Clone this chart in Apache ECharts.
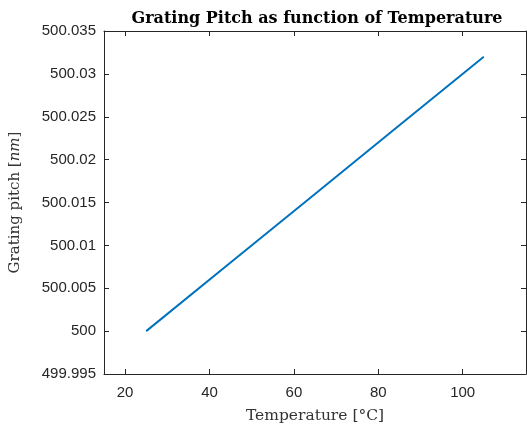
<!DOCTYPE html>
<html><head><meta charset="utf-8">
<script src="https://cdn.jsdelivr.net/npm/echarts@6/dist/echarts.min.js"></script>
<style>html,body{margin:0;padding:0;background:#fff}#c{width:527px;height:429px}</style>
</head><body><div id="c"></div>
<script>
const temperatures = [25, 45, 65, 85, 105];
const pitch = [500.000, 500.008, 500.016, 500.024, 500.032];
const xTicks = [20, 40, 60, 80, 100];
const yTicks = [499.995, 500, 500.005, 500.01, 500.015, 500.02, 500.025, 500.03, 500.035];
const xRange = [15, 115];
const yRange = [499.995, 500.035];

const axisColor = '#262626';
const chart = echarts.init(document.getElementById('c'), null, {renderer: 'canvas'});
const fmtY = v => String(parseFloat(Number(v).toFixed(3)));
const baseX = {
  type: 'value', min: xRange[0], max: xRange[1],
  axisLine: {show: true, onZero: false, lineStyle: {color: axisColor, width: 1}},
  axisTick: {show: true, inside: true, length: 5, customValues: xTicks, lineStyle: {color: axisColor}},
  splitLine: {show: false}
};
const baseY = {
  type: 'value', min: yRange[0], max: yRange[1],
  axisLine: {show: true, onZero: false, lineStyle: {color: axisColor, width: 1}},
  axisTick: {show: true, inside: true, length: 5, customValues: yTicks, lineStyle: {color: axisColor}},
  splitLine: {show: false}
};
chart.setOption({
  animation: false,
  title: {
    text: 'Grating Pitch as function of Temperature',
    left: 312, top: 6, textAlign: 'center',
    textStyle: {fontFamily: 'DejaVu Serif', fontWeight: 'bold', fontSize: 16, color: '#000'}
  },
  grid: {left: 99, right: 1, top: 31, bottom: 50},
  xAxis: [
    Object.assign({}, baseX, {
      position: 'bottom',
      axisLabel: {show: true, customValues: xTicks, fontFamily: 'Liberation Sans', fontSize: 15, color: axisColor, margin: 11},
      name: 'Temperature [°C]', nameLocation: 'middle', nameGap: 34,
      nameTextStyle: {fontFamily: 'DejaVu Serif', fontSize: 15.5, color: '#333'}
    }),
    Object.assign({}, baseX, {position: 'top', axisLabel: {show: false}})
  ],
  yAxis: [
    Object.assign({}, baseY, {
      position: 'left',
      axisLabel: {show: true, customValues: yTicks, formatter: fmtY, fontFamily: 'Liberation Sans', fontSize: 15, color: axisColor, margin: 8},
      name: '{a|Grating pitch [}{i|nm}{a|]}', nameLocation: 'middle', nameGap: 81,
      nameTextStyle: {
        rich: {
          a: {fontFamily: 'DejaVu Serif', fontSize: 15, color: '#333'},
          i: {fontFamily: 'DejaVu Serif', fontStyle: 'italic', fontSize: 15, color: '#333'}
        }
      }
    }),
    Object.assign({}, baseY, {position: 'right', axisLabel: {show: false}})
  ],
  series: [{
    type: 'line', xAxisIndex: 0, yAxisIndex: 0,
    data: temperatures.map((t, i) => [t, pitch[i]]),
    showSymbol: false, symbol: 'none',
    lineStyle: {color: '#0072BD', width: 2}
  }]
});
</script></body></html>
